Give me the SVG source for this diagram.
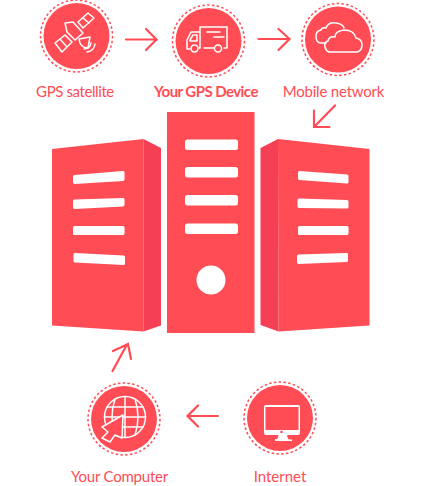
<svg xmlns="http://www.w3.org/2000/svg" width="421" height="486" viewBox="0 0 421 486">
<style>
.d{fill:#ff4c55}.s{fill:#f53f54}.b{fill:#fff;stroke:#fff;stroke-width:3;stroke-linejoin:round}
.c{fill:#ff4c55}.r{fill:none;stroke:#ff4c55;stroke-width:1.500;stroke-dasharray:2.500 2.300}
.i{fill:none;stroke:#fff;stroke-width:1.500;stroke-linejoin:round;stroke-linecap:round}
.a{fill:none;stroke:#ff4c55;stroke-width:2.200;stroke-linecap:round}
text{font-family:Lato,"Open Sans",sans-serif;font-size:15px;fill:#ff4c55;text-anchor:middle;letter-spacing:-.2px}
</style>
<g id="server-left">
<path class="d" d="M52 149L143.500 139V331.500L52 325.500Z"/><path class="s" d="M143.500 139L161 148V325.500L143.500 331.500Z"/>
<path class="b" d="M74.500 176.500L123 172.500V179.500L74.500 182.500ZM74.500 201L123 199.500V205L74.500 207.500ZM74.500 227.500H123V233.500H74.500ZM75 254.500L123.500 257V263.500L75 261Z"/>
</g>
<g id="server-center">
<rect class="d" x="167" y="112" width="87.500" height="221"/>
<rect style="stroke:none" class="b" x="185" y="139.500" width="53" height="10.500" rx="2.500"/><rect style="stroke:none" class="b" x="185" y="167" width="53" height="10.500" rx="2.500"/><rect style="stroke:none" class="b" x="185" y="195" width="53" height="10.500" rx="2.500"/><rect style="stroke:none" class="b" x="185" y="223.500" width="53" height="10.500" rx="2.500"/>
<circle style="stroke:none" class="b" cx="211" cy="280" r="14.500"/>
</g>
<g id="server-right">
<path class="d" d="M278 139L369.500 149V325.500L278.500 331.500Z"/><path class="s" d="M278 139L260.500 148V325L278.500 331.500Z"/>
<path class="b" d="M299.500 172.500L347 176V182L299.500 178.500ZM299 200L347 201.500V207L299 206.500ZM299.500 227.500H347V233.500H299.500ZM298.500 256L346.500 254.500V260.500L298.500 262.500Z"/>
</g>
<g id="connectors">
<path class="a" d="M126 39.500H156M146 29L156.500 39.500L146 50"/>
<path class="a" d="M258.500 39H289M278.500 29L289.500 39L278.500 50"/>
<path class="a" d="M335 105.500L314 127M314 110.500V127H329.500"/>
<path class="a" d="M218 416H188M198 405.500L187.500 416L198 426.500"/>
<path class="a" d="M112.500 371L127 344.500M113 351L128 344L131 359"/>
</g>
<g id="gps-satellite">
<circle class="r" cx="76.500" cy="36" r="36"/><circle class="c" cx="76.500" cy="36" r="33"/>
<g class="i"><path d="M65 23L73 22L83 33L75 40L67 32Z"/><path d="M55 43L65 35L72 42L62 52ZM60 39L67 47"/><path d="M78 22L88 13L94 18L83 28ZM83 18L89 23"/><path d="M79 39L90 37L88 48Q80 48 79 39Z"/><path d="M84 49Q90 49 91 43M87 52Q94 51 95 44"/></g>
<text x="75" y="97" style="letter-spacing:-.4px">GPS satellite</text>
</g>
<g id="gps-device">
<circle class="r" cx="208.500" cy="41" r="36"/><circle class="c" cx="208.500" cy="41" r="33"/>
<g class="i"><path d="M200 31V27H227V48H224"/><path d="M200 32H191L187 40V49H190M200 32V48H199"/><path d="M190 40L193 35H197V41H190Z"/><circle cx="194.500" cy="48.500" r="3.500"/><circle cx="218" cy="48.500" r="3.500"/><path d="M204 48H214M207 32H220M214 37H224"/></g>
<text x="206" y="97" style="font-weight:700;letter-spacing:-.55px">Your GPS Device</text>
</g>
<g id="mobile-network">
<circle class="r" cx="338" cy="39.500" r="36"/><circle class="c" cx="338" cy="39.500" r="33"/>
<g class="i"><path d="M326 43H321Q316 43 316 36Q316 31 321 30Q322 27 326 28Q328 22 336 23Q343 24 344 28"/><path d="M329 52H357Q362 51 362 45Q362 39 356 38Q354 30 344 30Q335 31 335 37Q329 36 328 41Q324 42 325 47Q326 51 329 52Z"/></g>
<text x="333.500" y="97">Mobile network</text>
</g>
<g id="your-computer">
<circle class="r" cx="124" cy="419" r="36"/><circle class="c" cx="124" cy="419" r="33"/>
<g class="i"><circle cx="125" cy="417" r="20.500"/><path d="M104.500 417H145.500M107 407H143M107 427H143M125 396.500V437.500M115 399Q109 417 115 435M135 399Q141 417 135 435"/></g>
<path d="M123 415L102 427L108 432L102 438L110 442L115 435L122 438Z" fill="#ff4c55" stroke="#fff" stroke-width="1.500" stroke-linejoin="round"/>
<text x="119.500" y="482">Your Computer</text>
</g>
<g id="internet">
<circle class="r" cx="280" cy="418" r="36"/><circle class="c" cx="280" cy="418" r="33"/>
<path style="stroke:none" class="b" fill-rule="evenodd" d="M266 405H298q2 0 2 2v26q0 2-2 2H287L288 439Q292 440 292 439V441H275V439Q278 440 278.500 435H266q-2 0-2-2V407q0-2 2-2ZM265.500 407V430H298.500V407Z"/>
<circle cx="281.500" cy="432" r="1.300" fill="#ff4c55"/>
<text x="280" y="482" style="letter-spacing:0">Internet</text>
</g>
</svg>
